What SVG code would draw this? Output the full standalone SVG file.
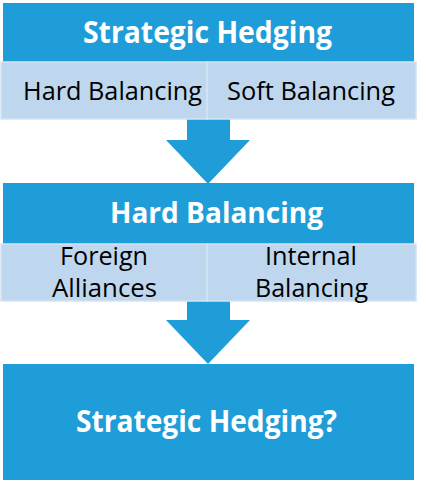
<svg xmlns="http://www.w3.org/2000/svg" width="426" height="483" viewBox="0 0 426 483">
<style>
.main{fill:#1f9dd9}
.sub{fill:#bed7ee;stroke:#d3e4f4;stroke-width:1.5}
.arrow{fill:#1f9dd9}
.t{font-family:"Open Sans","Liberation Sans",sans-serif;text-anchor:start}
.w{fill:#ffffff;font-weight:bold}
.k{fill:#000000}
</style>
<rect width="426" height="483" fill="#ffffff"/>
<g id="connectors">
<polygon class="arrow" points="187,118 230,118 230,140 250,140 208,184 166,140 187,140"/>
<polygon class="arrow" points="187,300 230,300 230,320 250,320 208,364 166,320 187,320"/>
</g>
<g id="node-strategic-hedging">
<rect class="main" x="3" y="3" width="411" height="59"/>
<text class="t w" x="83" y="43" font-size="30" textLength="249" lengthAdjust="spacingAndGlyphs">Strategic Hedging</text>
</g>
<g id="node-hard-balancing-1">
<rect class="sub" x="1" y="62" width="206" height="57"/>
<text class="t k" x="23" y="100" font-size="25" textLength="179" lengthAdjust="spacingAndGlyphs">Hard Balancing</text>
</g>
<g id="node-soft-balancing">
<rect class="sub" x="207" y="62" width="209" height="57"/>
<text class="t k" x="227" y="100" font-size="25" textLength="168" lengthAdjust="spacingAndGlyphs">Soft Balancing</text>
</g>
<g id="node-hard-balancing-2">
<rect class="main" x="3" y="183" width="411" height="61"/>
<text class="t w" x="110" y="223" font-size="29" textLength="213" lengthAdjust="spacingAndGlyphs">Hard Balancing</text>
</g>
<g id="node-foreign-alliances">
<rect class="sub" x="1" y="244" width="206" height="57"/>
<text class="t k" x="60" y="265" font-size="25" textLength="88" lengthAdjust="spacingAndGlyphs">Foreign</text>
<text class="t k" x="52" y="297" font-size="25" textLength="105" lengthAdjust="spacingAndGlyphs">Alliances</text>
</g>
<g id="node-internal-balancing">
<rect class="sub" x="207" y="244" width="209" height="57"/>
<text class="t k" x="265" y="265" font-size="25" textLength="92" lengthAdjust="spacingAndGlyphs">Internal</text>
<text class="t k" x="255" y="297" font-size="25" textLength="113" lengthAdjust="spacingAndGlyphs">Balancing</text>
</g>
<g id="node-strategic-hedging-q">
<rect class="main" x="3" y="364" width="411" height="116"/>
<text class="t w" x="76" y="432" font-size="30" textLength="261" lengthAdjust="spacingAndGlyphs">Strategic Hedging?</text>
</g>
</svg>
